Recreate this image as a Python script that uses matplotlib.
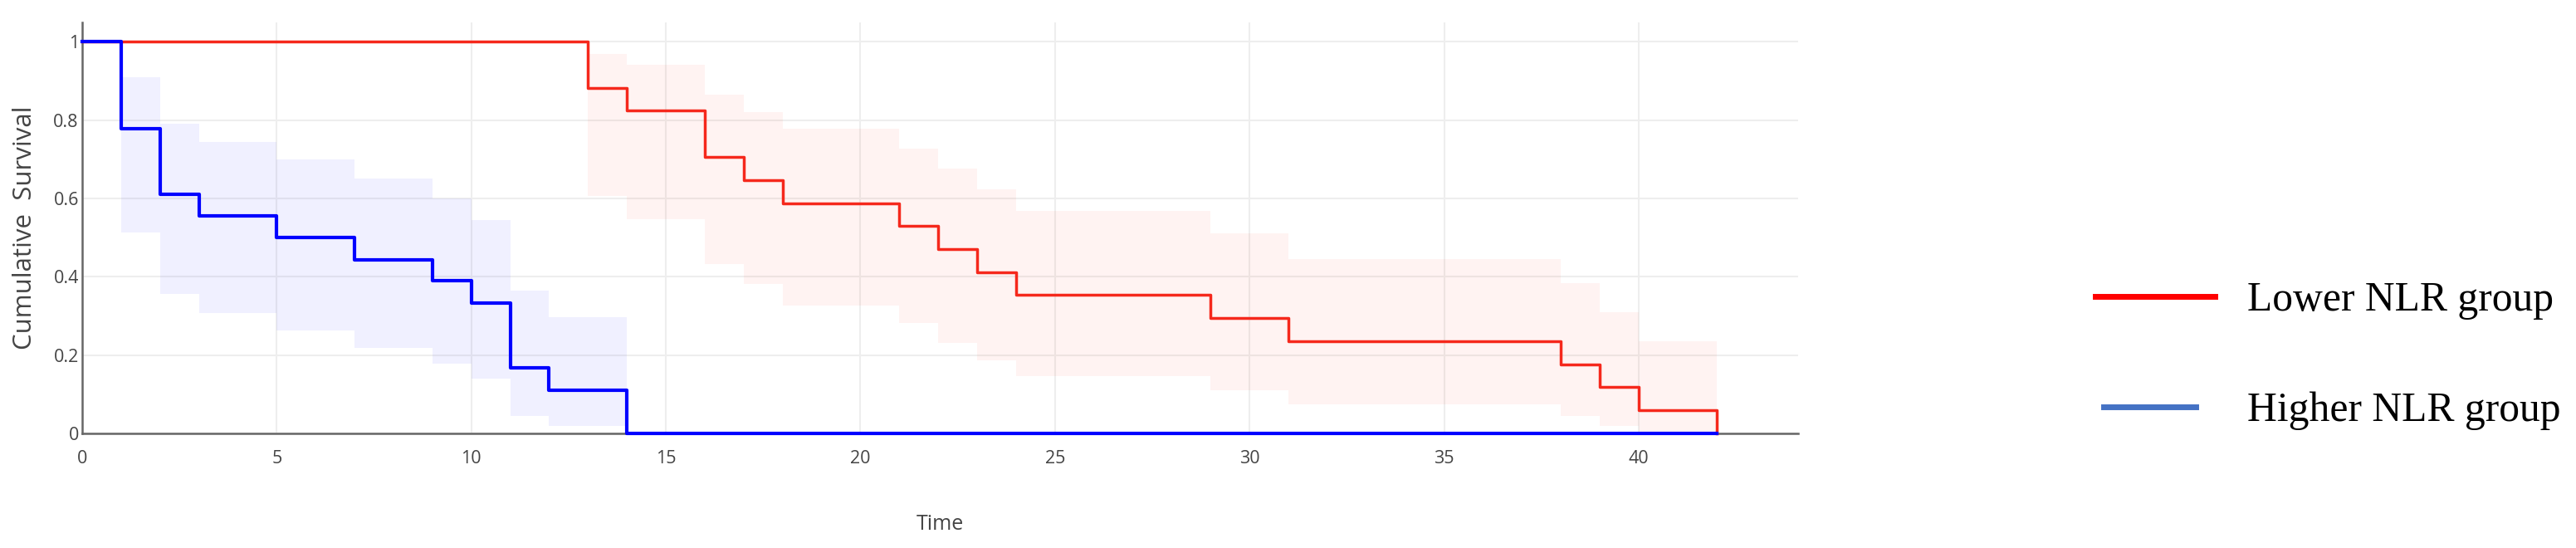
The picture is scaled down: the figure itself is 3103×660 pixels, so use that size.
import matplotlib
matplotlib.use("Agg")
import matplotlib.pyplot as plt
from matplotlib.lines import Line2D

# Kaplan-Meier curves
low_t = [0, 13, 14, 16, 17, 18, 21, 22, 23, 24, 29, 31, 38, 39, 40, 42]
low_s = [1.0, 0.882, 0.824, 0.706, 0.647, 0.588, 0.529, 0.471, 0.412, 0.353, 0.294, 0.235, 0.176, 0.118, 0.059, 0.0]
low_hi = [1.0, 0.969, 0.94, 0.864, 0.82, 0.778, 0.727, 0.677, 0.624, 0.568, 0.51, 0.446, 0.383, 0.309, 0.236, 0.0]
low_lo = [1.0, 0.606, 0.546, 0.432, 0.381, 0.327, 0.281, 0.232, 0.187, 0.147, 0.11, 0.074, 0.045, 0.02, 0.0, 0.0]

high_t = [0, 1, 2, 3, 5, 7, 9, 10, 11, 12, 14, 42]
high_s = [1.0, 0.778, 0.611, 0.556, 0.5, 0.444, 0.389, 0.333, 0.167, 0.111, 0.0, 0.0]
high_hi = [1.0, 0.91, 0.79, 0.745, 0.70, 0.65, 0.60, 0.545, 0.365, 0.297, 0.0, 0.0]
high_lo = [1.0, 0.512, 0.356, 0.307, 0.263, 0.218, 0.178, 0.14, 0.045, 0.02, 0.0, 0.0]

labels = ["Lower NLR group", "Higher NLR group"]
x_ticks = [0, 5, 10, 15, 20, 25, 30, 35, 40]
y_ticks = [0, 0.2, 0.4, 0.6, 0.8, 1]
y_ticklabels = ["0", "0.2", "0.4", "0.6", "0.8", "1"]

plt.rcParams['font.family'] = ['Open Sans', 'DejaVu Sans']

fig = plt.figure(figsize=(31.03, 6.6), dpi=100)
ax = fig.add_axes([0.0319, 0.209, 0.6662, 0.75])

ax.fill_between(low_t, low_lo, low_hi, step='post', color='#ff2000', alpha=0.05, lw=0)
ax.fill_between(high_t, high_lo, high_hi, step='post', color='#0000ff', alpha=0.06, lw=0)

ax.plot(low_t, low_s, drawstyle='steps-post', color='#f5281c', lw=2.5, clip_on=False, zorder=5)
ax.plot(high_t, high_s, drawstyle='steps-post', color='#0000ff', lw=3.0, clip_on=False, zorder=6)

ax.set_xlim(0, 44.1)
ax.set_ylim(0, 1.049)
ax.set_xticks(x_ticks)
ax.set_yticks(y_ticks)
ax.set_yticklabels(y_ticklabels)
ax.grid(True, color='#eeeeee', lw=1.5)
ax.set_axisbelow(True)
ax.tick_params(length=0, labelsize=15.5, labelcolor='#444444')
ax.tick_params(axis='x', pad=14)
ax.tick_params(axis='y', pad=3)
for s in ['top', 'right']:
    ax.spines[s].set_visible(False)
for s in ['left', 'bottom']:
    ax.spines[s].set_color('#666666')
    ax.spines[s].set_linewidth(1.8)

ax.set_xlabel('Time', fontsize=18, color='#444444', labelpad=41)
ax.set_ylabel('Cumulative  Survival', fontsize=22.5, color='#444444', labelpad=14)

handles = [Line2D([], [], color='#ff0000', lw=5), Line2D([], [], color='#4472c4', lw=5)]
leg = fig.legend(handles, labels, loc='center left', bbox_to_anchor=(0.8134, 0.351),
                 frameon=False, borderpad=0, borderaxespad=0, handlelength=2.9,
                 handletextpad=0.8, labelspacing=1.74,
                 prop={'family': 'Liberation Serif', 'size': 35.7})

# the blue key line is a bit shorter than the red one
blue_key = leg.legend_handles[1]
xs = blue_key.get_xdata()
x0, x1 = xs[0], xs[-1]
blue_key.set_data([x0 + 0.07 * (x1 - x0), x0 + 0.84 * (x1 - x0)], [blue_key.get_ydata()[0]] * 2)

fig.savefig('out.png', dpi=100, facecolor='white')
